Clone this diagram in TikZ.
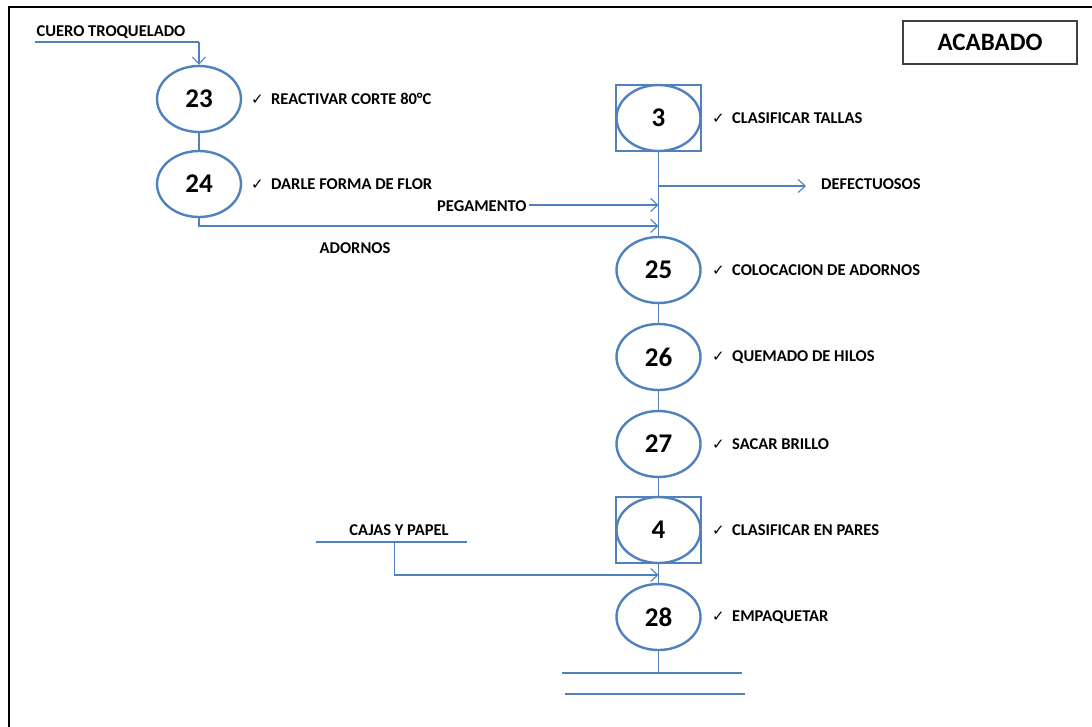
\documentclass[tikz,border=0pt]{standalone}
\usepackage{fontspec}
\setmainfont{Carlito}
\newfontfamily\symfont{DejaVu Sans}
\usetikzlibrary{shapes.geometric,arrows.meta}
\definecolor{flow}{HTML}{4F81BD}
\tikzset{
  flowline/.style={draw=flow, line width=1.3pt},
  flowarrow/.style={flowline, -{Straight Barb[length=7pt,width=13pt,line width=1.1pt]}},
  opnode/.style={ellipse, draw=flow, line width=2.4pt, minimum width=84pt, minimum height=66pt,
    inner sep=0pt, font=\fontsize{27}{29}\selectfont\bfseries},
  inspbox/.style={draw=flow, line width=2.4pt, minimum width=85pt, minimum height=66pt, inner sep=0pt},
  note/.style={anchor=west, inner sep=0pt, font=\fontsize{16.5}{18}\selectfont\bfseries},
  tag/.style={inner sep=0pt, font=\fontsize{16.5}{18}\selectfont\bfseries},
}
\newcommand{\chk}{\makebox[20pt][l]{\symfont\fontsize{15}{16}\selectfont ✓}}
\begin{document}
\begin{tikzpicture}[x=1pt,y=-1pt]
\useasboundingbox (0,0) rectangle (1092,726);
% frame
\draw[line width=2pt] (9,740) -- (9,7) -- (1100,7);
\node[draw=black!75, line width=1.2pt, minimum width=174pt, minimum height=43pt,
  font=\fontsize{25}{28}\selectfont\bfseries] (title) at (990,42.5) {ACABADO};

% left branch: operations 23 and 24
\node[opnode] (o23) at (199,99) {23};
\node[opnode] (o24) at (199,184) {24};
\node[tag] (cuero) at (111,32) {CUERO TROQUELADO};
\coordinate (cueroL) at (35,42);
\coordinate (cueroR) at (199,42);
\draw[flowline] (cueroL) -- (cueroR);
\draw[flowarrow] (cueroR) -- (o23.north);
\draw[flowline] (o23) -- (o24);
\node[note] (n23) at (251,99) {\chk REACTIVAR CORTE 80°C};
\node[note] (n24) at (251,184) {\chk DARLE FORMA DE FLOR};

% main column
\node[inspbox] (b3) at (658.5,118) {};
\node[opnode] (o3) at (658.5,118) {3};
\node[opnode] (o25) at (658.5,270) {25};
\node[opnode] (o26) at (658.5,357) {26};
\node[opnode] (o27) at (658.5,444) {27};
\node[inspbox] (b4) at (658.5,530) {};
\node[opnode] (o4) at (658.5,530) {4};
\node[opnode] (o28) at (658.5,617) {28};
\coordinate (end) at (658.5,673);

\draw[flowline] (b3.south) -- (o25.north);
\draw[flowline] (o25) -- (o26);
\draw[flowline] (o26) -- (o27);
\draw[flowline] (o27.south) -- (b4.north);
\draw[flowline] (b4.south) -- (o28.north);
\draw[flowline] (o28.south) -- (end);

\node[note] (n3) at (712,118) {\chk CLASIFICAR TALLAS};
\node[note] (n25) at (712,270) {\chk COLOCACION DE ADORNOS};
\node[note] (n26) at (712,357) {\chk QUEMADO DE HILOS};
\node[note] (n27) at (712,444) {\chk SACAR BRILLO};
\node[note] (n4) at (712,530) {\chk CLASIFICAR EN PARES};
\node[note] (n28) at (712,617) {\chk EMPAQUETAR};

% defective output
\coordinate (defS) at (658.5,186);
\node[note] (def) at (821,184) {DEFECTUOSOS};
\coordinate (defE) at (806,186);
\draw[flowarrow] (defS) -- (defE);

% glue input
\node[note] (peg) at (437,206) {PEGAMENTO};
\coordinate (pegS) at (529,205);
\coordinate (pegE) at (658.5,205);
\draw[flowarrow] (pegS) -- (pegE);

% ornaments input from operation 24
\coordinate (adoE) at (658.5,226);
\draw[flowarrow] (o24.south) |- (adoE);
\node[tag] (ado) at (355,248) {ADORNOS};

% boxes and paper input
\node[tag] (cajas) at (399,530) {CAJAS Y PAPEL};
\coordinate (cajL) at (316,542);
\coordinate (cajR) at (467,542);
\coordinate (cajT) at (394.5,542);
\coordinate (cajE) at (658.5,575);
\draw[flowline] (cajL) -- (cajR);
\draw[flowarrow] (cajT) |- (cajE);

% storage symbol
\coordinate (s1L) at (562,673);
\coordinate (s1R) at (742,673);
\coordinate (s2L) at (565,694);
\coordinate (s2R) at (745,694);
\draw[flowline] (s1L) -- (s1R);
\draw[flowline] (s2L) -- (s2R);
\end{tikzpicture}
\end{document}
